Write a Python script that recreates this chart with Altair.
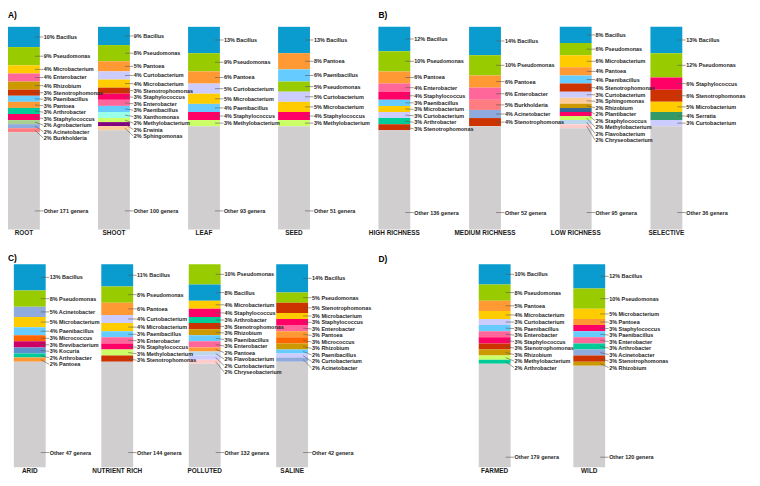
import altair as alt
import pandas as pd

# ---------------- data ----------------
ROOT_GENERA = ["Bacillus", "Pseudomonas", "Microbacterium", "Enterobacter", "Rhizobium",
               "Stenotrophomonas", "Paenibacillus", "Pantoea", "Arthrobacter", "Staphylococcus",
               "Agrobacterium", "Acinetobacter", "Burkholderia"]
ROOT_PCT = [10, 9, 4, 4, 4, 3, 3, 3, 3, 3, 2, 2, 2]
ROOT_OTHER = 171

SHOOT_GENERA = ["Bacillus", "Pseudomonas", "Pantoea", "Curtobacterium", "Microbacterium",
                "Stenotrophomonas", "Staphylococcus", "Enterobacter", "Paenibacillus",
                "Xanthomonas", "Methylobacterium", "Erwinia", "Sphingomonas"]
SHOOT_PCT = [9, 8, 5, 4, 4, 3, 3, 3, 3, 3, 2, 2, 2]
SHOOT_OTHER = 100

LEAF_GENERA = ["Bacillus", "Pseudomonas", "Pantoea", "Curtobacterium", "Microbacterium",
               "Paenibacillus", "Staphylococcus", "Methylobacterium"]
LEAF_PCT = [13, 9, 6, 5, 5, 4, 4, 3]
LEAF_OTHER = 93

SEED_GENERA = ["Bacillus", "Pantoea", "Paenibacillus", "Pseudomonas", "Curtobacterium",
               "Microbacterium", "Staphylococcus", "Methylobacterium"]
SEED_PCT = [13, 8, 6, 5, 5, 5, 4, 3]
SEED_OTHER = 51

HIGH_GENERA = ["Bacillus", "Pseudomonas", "Pantoea", "Enterobacter", "Staphylococcus",
               "Paenibacillus", "Microbacterium", "Curtobacterium", "Arthrobacter", "Stenotrophomonas"]
HIGH_PCT = [12, 10, 6, 4, 4, 3, 3, 3, 3, 3]
HIGH_OTHER = 136

MEDIUM_GENERA = ["Bacillus", "Pseudomonas", "Pantoea", "Enterobacter", "Burkholderia",
                 "Acinetobacter", "Stenotrophomonas"]
MEDIUM_PCT = [14, 10, 6, 6, 5, 4, 4]
MEDIUM_OTHER = 52

LOW_GENERA = ["Bacillus", "Pseudomonas", "Microbacterium", "Pantoea", "Paenibacillus",
              "Stenotrophomonas", "Curtobacterium", "Sphingomonas", "Rhizobium", "Plantibacter",
              "Staphylococcus", "Methylobacterium", "Flavobacterium", "Chryseobacterium"]
LOW_PCT = [8, 6, 6, 4, 4, 4, 3, 3, 2, 2, 2, 2, 2, 2]
LOW_OTHER = 95

SELECTIVE_GENERA = ["Bacillus", "Pseudomonas", "Staphylococcus", "Stenotrophomonas",
                    "Microbacterium", "Serratia", "Curtobacterium"]
SELECTIVE_PCT = [13, 12, 6, 6, 5, 4, 3]
SELECTIVE_OTHER = 36

ARID_GENERA = ["Bacillus", "Pseudomonas", "Acinetobacter", "Microbacterium", "Paenibacillus",
               "Micrococcus", "Brevibacterium", "Kocuria", "Arthrobacter", "Pantoea"]
ARID_PCT = [13, 8, 5, 5, 4, 3, 3, 3, 2, 2]
ARID_OTHER = 47

NUTRIENT_GENERA = ["Bacillus", "Pseudomonas", "Pantoea", "Curtobacterium", "Microbacterium",
                   "Paenibacillus", "Enterobacter", "Staphylococcus", "Methylobacterium",
                   "Stenotrophomonas"]
NUTRIENT_PCT = [11, 8, 6, 4, 4, 3, 3, 3, 3, 3]
NUTRIENT_OTHER = 144

POLLUTED_GENERA = ["Pseudomonas", "Bacillus", "Microbacterium", "Staphylococcus", "Arthrobacter",
                   "Stenotrophomonas", "Rhizobium", "Paenibacillus", "Enterobacter", "Pantoea",
                   "Flavobacterium", "Curtobacterium", "Chryseobacterium"]
POLLUTED_PCT = [10, 8, 4, 4, 3, 3, 3, 3, 3, 2, 2, 2, 2]
POLLUTED_OTHER = 132

SALINE_GENERA = ["Bacillus", "Pseudomonas", "Stenotrophomonas", "Microbacterium", "Staphylococcus",
                 "Enterobacter", "Pantoea", "Micrococcus", "Rhizobium", "Paenibacillus",
                 "Curtobacterium", "Acinetobacter"]
SALINE_PCT = [14, 5, 5, 3, 3, 3, 3, 3, 3, 2, 2, 2]
SALINE_OTHER = 42

FARMED_GENERA = ["Bacillus", "Pseudomonas", "Pantoea", "Microbacterium", "Curtobacterium",
                 "Paenibacillus", "Enterobacter", "Staphylococcus", "Stenotrophomonas",
                 "Rhizobium", "Methylobacterium", "Arthrobacter"]
FARMED_PCT = [10, 8, 5, 4, 3, 3, 3, 3, 3, 3, 2, 2]
FARMED_OTHER = 179

WILD_GENERA = ["Bacillus", "Pseudomonas", "Microbacterium", "Pantoea", "Staphylococcus",
               "Paenibacillus", "Enterobacter", "Arthrobacter", "Acinetobacter",
               "Stenotrophomonas", "Rhizobium"]
WILD_PCT = [12, 10, 5, 3, 3, 3, 3, 3, 3, 3, 2]
WILD_OTHER = 120

BARS = [
    ("A", "ROOT", ROOT_GENERA, ROOT_PCT, ROOT_OTHER),
    ("A", "SHOOT", SHOOT_GENERA, SHOOT_PCT, SHOOT_OTHER),
    ("A", "LEAF", LEAF_GENERA, LEAF_PCT, LEAF_OTHER),
    ("A", "SEED", SEED_GENERA, SEED_PCT, SEED_OTHER),
    ("B", "HIGH RICHNESS", HIGH_GENERA, HIGH_PCT, HIGH_OTHER),
    ("B", "MEDIUM RICHNESS", MEDIUM_GENERA, MEDIUM_PCT, MEDIUM_OTHER),
    ("B", "LOW RICHNESS", LOW_GENERA, LOW_PCT, LOW_OTHER),
    ("B", "SELECTIVE", SELECTIVE_GENERA, SELECTIVE_PCT, SELECTIVE_OTHER),
    ("C", "ARID", ARID_GENERA, ARID_PCT, ARID_OTHER),
    ("C", "NUTRIENT RICH", NUTRIENT_GENERA, NUTRIENT_PCT, NUTRIENT_OTHER),
    ("C", "POLLUTED", POLLUTED_GENERA, POLLUTED_PCT, POLLUTED_OTHER),
    ("C", "SALINE", SALINE_GENERA, SALINE_PCT, SALINE_OTHER),
    ("D", "FARMED", FARMED_GENERA, FARMED_PCT, FARMED_OTHER),
    ("D", "WILD", WILD_GENERA, WILD_PCT, WILD_OTHER),
]

# ---------------- styles ----------------
COLORS = {
    "Bacillus": "#0A9BCF", "Pseudomonas": "#99CC00", "Pantoea": "#FF9933",
    "Microbacterium": "#FFCC00", "Enterobacter": "#FF6699", "Rhizobium": "#CC9900",
    "Stenotrophomonas": "#CC3300", "Paenibacillus": "#66CCFF", "Arthrobacter": "#00CC99",
    "Staphylococcus": "#FF0066", "Agrobacterium": "#A9D08E", "Acinetobacter": "#8FAADC",
    "Burkholderia": "#FF7C80", "Curtobacterium": "#CCCCFF", "Xanthomonas": "#99FFE6",
    "Methylobacterium": "#CCFF66", "Erwinia": "#800080", "Sphingomonas": "#FFCC99",
    "Plantibacter": "#336699", "Flavobacterium": "#BDD7EE", "Chryseobacterium": "#FFCCCC",
    "Serratia": "#339966", "Micrococcus": "#FF6600", "Brevibacterium": "#CC0066",
    "Kocuria": "#5B8FD0",
}
OTHER_COLOR = "#D0CECE"
FONT = "Liberation Sans"
LABEL_SIZE = 5.5
CAT_SIZE = 6.5
LETTER_SIZE = 8.5

# ---------------- layout ----------------
W, H = 752, 470
BAR_W = 32.2
ROW_OF_PANEL = {"A": 1, "B": 1, "C": 2, "D": 2}
PANEL_X0 = {"A": 0.0, "B": 374.4, "C": 5.9, "D": 475.8}
PANEL_STEP = {"A": 91.0, "B": 91.65, "C": 88.4, "D": 95.6}
ROW_DOMAIN = {1: [-8.05, 221.3], 2: [-124.8, 104.0]}
LETTER_POS = {"A": (0.0, -5.7), "B": (374.4, -5.7), "C": (0.0, -2.8), "D": (374.4, -2.3)}
OTHER_LABEL_PCT = {"A": 90.8, "B": 91.6, "C": 92.7, "D": 95.0}
CAT_PCT = 101.9
GAP = 3.2


def build_row(row):
    segs, labs, lines, cats = [], [], [], []
    counters = {}
    for panel, name, genera, pct, other in BARS:
        if ROW_OF_PANEL[panel] != row:
            continue
        i = counters.get(panel, 0)
        counters[panel] = i + 1
        x0 = PANEL_X0[panel] + i * PANEL_STEP[panel]
        x1 = x0 + BAR_W
        cum = 0.0
        mids = []
        for g, p in zip(genera, pct):
            segs.append(dict(x0=x0, x1=x1, y0=cum, y1=cum + p, color=COLORS[g]))
            mids.append(cum + p / 2)
            cum += p
        segs.append(dict(x0=x0, x1=x1, y0=cum, y1=100.0, color=OTHER_COLOR))
        pos = []
        for m in mids:
            pos.append(m if not pos else max(m, pos[-1] + GAP))
        for g, p, m, yl in zip(genera, pct, mids, pos):
            labs.append(dict(x=x1 + 4, y=yl, text=f"{p}% {g}"))
            lines.append(dict(x=x1 - 5, x2=x1 + 3.5, y=m, y2=yl))
        oy = OTHER_LABEL_PCT[panel]
        labs.append(dict(x=x1 + 4, y=oy, text=f"Other {other} genera"))
        lines.append(dict(x=x1 - 5, x2=x1 + 3.5, y=oy, y2=oy))
        cats.append(dict(x=(x0 + x1) / 2, y=CAT_PCT, text=name))
    letters = [dict(x=LETTER_POS[p][0], y=LETTER_POS[p][1], text=f"{p})")
               for p in LETTER_POS if ROW_OF_PANEL[p] == row]
    return (pd.DataFrame(segs), pd.DataFrame(labs), pd.DataFrame(lines),
            pd.DataFrame(cats), pd.DataFrame(letters))


xs = alt.Scale(domain=[0, W], nice=False, zero=False)


def row_layers(row):
    segs, labs, lines, cats, letters = build_row(row)
    ys = alt.Scale(domain=ROW_DOMAIN[row], reverse=True, nice=False, zero=False)
    bars = alt.Chart(segs).mark_rect(strokeWidth=0).encode(
        x=alt.X("x0:Q", scale=xs, axis=None), x2="x1:Q",
        y=alt.Y("y0:Q", scale=ys, axis=None), y2="y1:Q",
        color=alt.Color("color:N", scale=None),
    )
    rules = alt.Chart(lines).mark_rule(color="#595959", strokeWidth=0.6).encode(
        x=alt.X("x:Q", scale=xs, axis=None), x2="x2:Q",
        y=alt.Y("y:Q", scale=ys, axis=None), y2="y2:Q",
    )
    texts = alt.Chart(labs).mark_text(
        align="left", baseline="middle", font=FONT, fontSize=LABEL_SIZE,
        fontWeight="bold", color="#262626",
    ).encode(
        x=alt.X("x:Q", scale=xs, axis=None),
        y=alt.Y("y:Q", scale=ys, axis=None), text="text:N",
    )
    catt = alt.Chart(cats).mark_text(
        align="center", baseline="middle", font=FONT, fontSize=CAT_SIZE,
        fontWeight="bold", color="#1a1a1a",
    ).encode(
        x=alt.X("x:Q", scale=xs, axis=None),
        y=alt.Y("y:Q", scale=ys, axis=None), text="text:N",
    )
    lett = alt.Chart(letters).mark_text(
        align="left", baseline="middle", font=FONT, fontSize=LETTER_SIZE,
        fontWeight="bold", color="#000000",
    ).encode(
        x=alt.X("x:Q", scale=xs, axis=None),
        y=alt.Y("y:Q", scale=ys, axis=None), text="text:N",
    )
    return [bars, rules, texts, catt, lett]


chart = alt.layer(*(row_layers(1) + row_layers(2))).resolve_scale(
    y="independent"
).properties(
    width=W, height=H,
    autosize=alt.AutoSizeParams(type="none"),
    padding=0, background="white",
).configure_view(stroke=None)

chart.save("out.html", embed_options={"renderer": "svg", "actions": False})
